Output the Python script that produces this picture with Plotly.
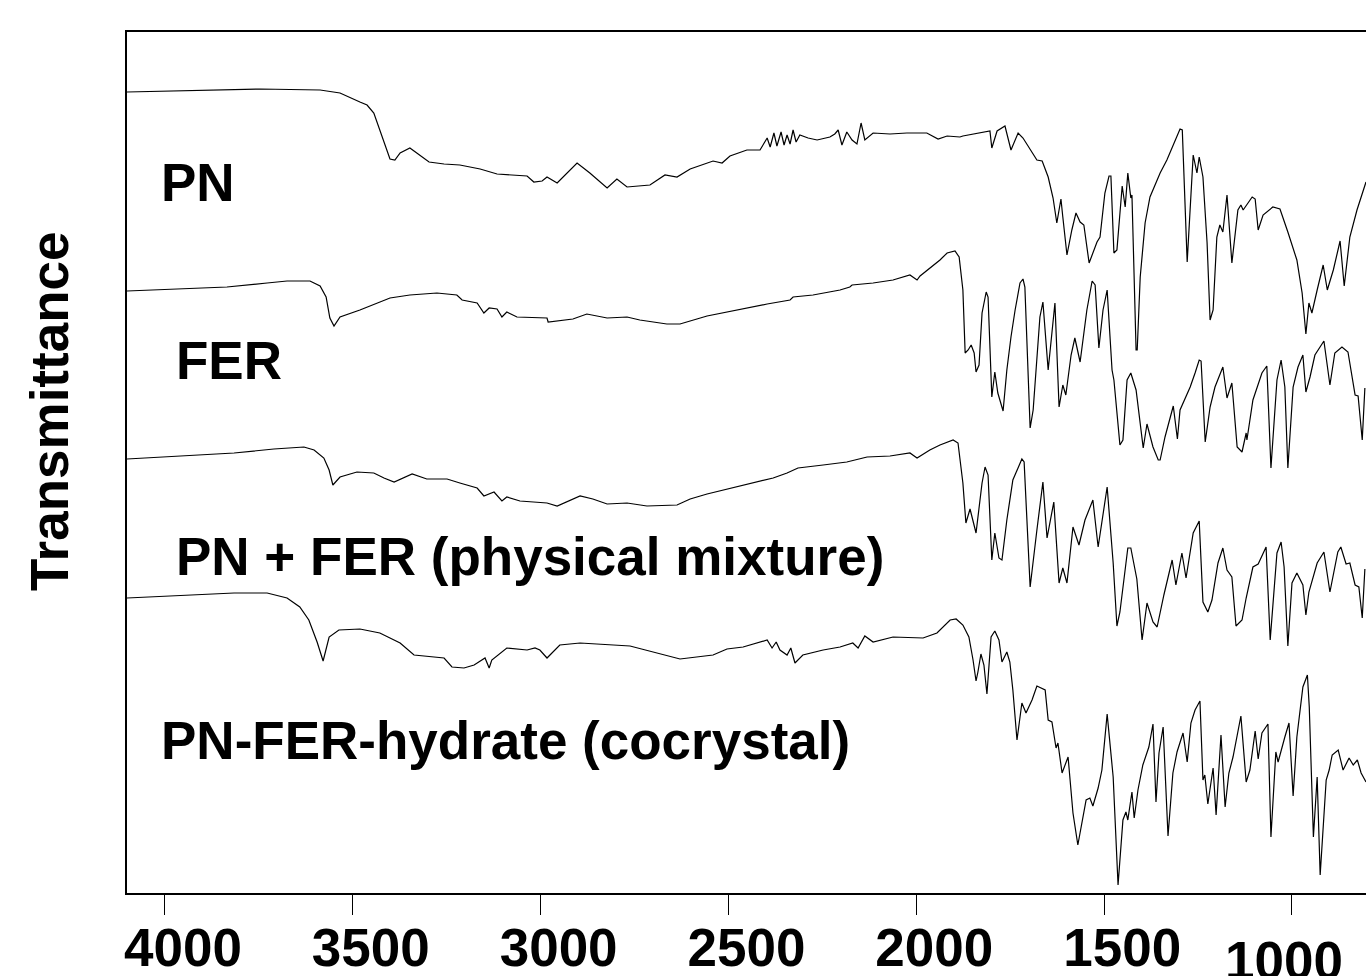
import plotly.graph_objects as go

# ---------------- data (wavenumber cm-1, transmittance a.u. with offsets) ----------------
pn_wn = [4101, 3907, 3747, 3587, 3534, 3481, 3462, 3444, 3428, 3401, 3388, 3374, 3348, 3329, 3297, 3257,
         3215, 3161, 3116, 3036, 3018, 2996, 2983, 2956, 2903, 2869, 2823, 2797, 2770, 2709, 2669, 2637,
         2602, 2541, 2517, 2496, 2451, 2416, 2408, 2397, 2389, 2379, 2371, 2360, 2352, 2344, 2336, 2328,
         2320, 2310, 2288, 2264, 2230, 2217, 2208, 2198, 2185, 2171, 2158, 2147, 2137, 2115, 2070, 2025,
         1972, 1942, 1918, 1884, 1876, 1812, 1804, 1799, 1785, 1764, 1748, 1729, 1716, 1679, 1665, 1649,
         1636, 1626, 1615, 1610, 1599, 1586, 1575, 1564, 1554, 1540, 1519, 1511, 1498, 1487, 1482, 1474,
         1466, 1452, 1444, 1437, 1429, 1426, 1415, 1412, 1404, 1391, 1378, 1351, 1333, 1298, 1292, 1279,
         1263, 1253, 1247, 1237, 1226, 1218, 1210, 1200, 1192, 1184, 1173, 1160, 1144, 1136, 1130, 1106,
         1098, 1090, 1077, 1051, 1032, 1011, 987, 973, 963, 955, 947, 933, 917, 906, 890, 872, 861, 846,
         827, 803]
pn_t = [808, 810, 811, 810, 807, 798, 795, 787, 770, 741, 740, 747, 752, 747, 738, 736,
        735, 731, 726, 724, 718, 719, 723, 717, 737, 727, 712, 721, 713, 715, 725, 723,
        731, 739, 737, 744, 750, 750, 755, 762, 753, 767, 754, 768, 755, 765, 756, 770,
        758, 765, 762, 760, 763, 766, 770, 755, 768, 760, 756, 777, 760, 767, 766, 767,
        767, 761, 764, 763, 764, 769, 769, 752, 769, 774, 750, 767, 762, 740, 739, 723,
        702, 677, 701, 683, 645, 670, 687, 678, 675, 637, 658, 663, 707, 724, 724, 647,
        650, 714, 693, 727, 702, 705, 550, 550, 623, 677, 703, 727, 740, 771, 770, 638,
        745, 727, 743, 723, 657, 580, 590, 663, 675, 668, 705, 637, 690, 695, 690, 703,
        701, 670, 685, 693, 691, 668, 640, 607, 566, 597, 587, 610, 635, 610, 630, 659, 614, 663,
        690, 718]

fer_wn = [4101, 3907, 3835, 3728, 3675, 3614, 3587, 3571, 3561, 3550, 3534, 3481, 3401, 3348, 3276, 3223,
          3209, 3169, 3151, 3137, 3116, 3103, 3090, 3063, 2983, 2980, 2914, 2877, 2823, 2770, 2736, 2664,
          2629, 2557, 2469, 2397, 2336, 2328, 2275, 2203, 2177, 2171, 2115, 2062, 2017, 1998, 1990, 1964,
          1937, 1918, 1897, 1886, 1876, 1870, 1862, 1854, 1846, 1841, 1833, 1825, 1814, 1809, 1799, 1791,
          1783, 1769, 1759, 1748, 1737, 1724, 1716, 1711, 1697, 1689, 1671, 1663, 1649, 1631, 1620, 1610,
          1602, 1588, 1578, 1564, 1546, 1532, 1524, 1514, 1503, 1492, 1479, 1474, 1458, 1450, 1439, 1429,
          1423, 1415, 1396, 1386, 1370, 1356, 1351, 1338, 1316, 1305, 1298, 1271, 1258, 1247, 1242, 1231,
          1218, 1205, 1184, 1173, 1160, 1146, 1133, 1122, 1120, 1104, 1080, 1067, 1056, 1040, 1029, 1019,
          1011, 997, 984, 971, 963, 952, 939, 926, 915, 899, 886, 867, 851, 832, 824, 813, 806]
fer_t = [609, 612, 613, 617, 619, 619, 614, 603, 582, 574, 583, 590, 602, 605, 607, 605,
         600, 597, 587, 592, 591, 583, 588, 583, 582, 578, 581, 586, 582, 583, 580, 576,
         576, 584, 591, 596, 600, 603, 605, 610, 613, 615, 617, 620, 625, 620, 624, 632,
         640, 647, 649, 643, 610, 547, 550, 555, 547, 528, 535, 587, 608, 603, 503, 528,
         507, 489, 530, 563, 590, 617, 621, 613, 472, 490, 583, 598, 530, 597, 493, 515,
         505, 545, 562, 538, 590, 619, 615, 552, 590, 610, 530, 520, 455, 460, 520, 527,
         520, 510, 452, 476, 453, 440, 440, 463, 494, 461, 490, 513, 527, 540, 539, 458,
         493, 513, 533, 502, 517, 453, 448, 467, 460, 500, 527, 534, 432, 520, 540, 513,
         432, 513, 533, 545, 508, 523, 545, 553, 559, 515, 547, 553, 548, 505, 504, 460, 512]

mix_wn = [4101, 3915, 3816, 3710, 3630, 3603, 3577, 3563, 3553, 3534, 3489, 3444, 3417, 3390, 3342, 3303,
          3249, 3215, 3169, 3151, 3124, 3103, 3090, 3055, 2983, 2956, 2895, 2861, 2823, 2770, 2717, 2637,
          2602, 2557, 2504, 2435, 2381, 2344, 2315, 2248, 2185, 2131, 2070, 2017, 1998, 1964, 1937, 1902,
          1889, 1876, 1868, 1857, 1841, 1825, 1817, 1809, 1799, 1791, 1780, 1772, 1759, 1743, 1719, 1713,
          1697, 1679, 1663, 1652, 1634, 1620, 1610, 1599, 1583, 1567, 1551, 1530, 1516, 1492, 1476, 1466,
          1458, 1437, 1429, 1413, 1399, 1386, 1370, 1359, 1341, 1319, 1309, 1293, 1282, 1263, 1247, 1237,
          1224, 1213, 1197, 1184, 1173, 1160, 1149, 1133, 1122, 1104, 1090, 1069, 1058, 1040, 1029, 1021,
          1011, 1000, 987, 971, 963, 955, 933, 915, 899, 878, 870, 856, 846, 832, 822, 813, 806]
mix_t = [441, 445, 447, 451, 453, 450, 442, 430, 415, 423, 428, 427, 422, 418, 426, 421,
         421, 417, 412, 404, 408, 399, 403, 399, 397, 394, 404, 401, 396, 397, 394, 395,
         401, 406, 411, 417, 422, 427, 432, 435, 438, 443, 444, 447, 442, 450, 455, 460,
         457, 417, 377, 391, 367, 417, 433, 425, 340, 367, 342, 340, 380, 420, 441, 438,
         313, 370, 418, 362, 398, 317, 332, 317, 373, 355, 380, 400, 353, 413, 337, 274,
         288, 352, 352, 321, 260, 297, 278, 273, 305, 340, 315, 347, 322, 367, 379, 298,
         288, 300, 337, 352, 330, 323, 274, 280, 302, 333, 336, 353, 260, 347, 358, 333,
         254, 317, 327, 315, 285, 308, 337, 348, 308, 348, 353, 336, 337, 315, 313, 282, 331]

coc_wn = [4101, 3923, 3816, 3728, 3675, 3641, 3617, 3595, 3579, 3563, 3537, 3481, 3428, 3374, 3337, 3257,
          3236, 3204, 3177, 3148, 3137, 3130, 3090, 3036, 3015, 3002, 2983, 2949, 2895, 2762, 2690, 2629,
          2541, 2504, 2461, 2397, 2384, 2373, 2363, 2344, 2334, 2323, 2302, 2248, 2203, 2169, 2155, 2137,
          2115, 2062, 1982, 1945, 1910, 1894, 1876, 1860, 1849, 1841, 1836, 1828, 1820, 1812, 1801, 1791,
          1780, 1772, 1759, 1751, 1743, 1732, 1719, 1708, 1692, 1679, 1657, 1649, 1639, 1628, 1623, 1612,
          1596, 1583, 1570, 1548, 1538, 1530, 1516, 1506, 1492, 1476, 1463, 1450, 1442, 1437, 1426, 1420,
          1410, 1397, 1381, 1370, 1362, 1354, 1343, 1330, 1317, 1306, 1290, 1279, 1269, 1258, 1245, 1237,
          1232, 1224, 1210, 1202, 1189, 1178, 1168, 1157, 1136, 1122, 1112, 1098, 1090, 1080, 1064, 1056,
          1043, 1037, 1019, 1008, 997, 987, 971, 959, 954, 943, 933, 925, 909, 901, 893, 877, 864, 848,
          837, 826, 816, 803]
coc_t = [302, 305, 307, 307, 302, 293, 280, 258, 239, 263, 270, 271, 267, 257, 245, 242,
         233, 232, 235, 242, 232, 240, 252, 250, 252, 250, 242, 255, 257, 254, 247, 241,
         245, 251, 253, 260, 252, 258, 250, 245, 252, 237, 245, 250, 253, 257, 252, 264,
         258, 263, 262, 267, 280, 281, 275, 263, 240, 219, 228, 246, 235, 206, 263, 269,
         260, 238, 248, 238, 210, 160, 197, 187, 200, 214, 210, 180, 178, 152, 157, 127,
         143, 87, 55, 100, 102, 94, 112, 130, 186, 123, 15, 80, 88, 80, 108, 82,
         110, 135, 153, 176, 98, 147, 173, 64, 127, 148, 167, 138, 177, 190, 199, 120,
         125, 96, 132, 85, 165, 93, 127, 143, 184, 118, 130, 169, 141, 167, 176, 63,
         148, 138, 163, 177, 104, 163, 213, 225, 193, 63, 123, 25, 120, 130, 145, 150, 130, 142,
         135, 140, 127, 118]

series = [("PN", pn_wn, pn_t), ("FER", fer_wn, fer_t),
          ("PN + FER (physical mixture)", mix_wn, mix_t),
          ("PN-FER-hydrate (cocrystal)", coc_wn, coc_t)]

tick_vals = [4000, 3500, 3000, 2500, 2000, 1500, 1000]
tick_text = ["4000", "3500", "3000", "2500", "2000", "1500", ""]

# label placement (wavenumber at left edge, transmittance at middle)
label_wn = [4015, 3975, 3975, 4015]
label_t = [718, 540, 344, 160]

FONT = "Liberation Sans, Arial, sans-serif"

fig = go.Figure()
for name, wn, t in series:
    fig.add_trace(go.Scatter(x=wn, y=t, mode="lines", name=name,
                             line=dict(color="black", width=1.2), showlegend=False))

for (name, _, _), lx, ly in zip(series, label_wn, label_t):
    fig.add_annotation(x=lx, y=ly, xref="x", yref="y", text=name, showarrow=False,
                       xanchor="left", yanchor="middle",
                       font=dict(family=FONT, size=53, color="black", weight="bold"))

# shifted 1000 label
fig.add_annotation(x=1000, y=0, xref="x", yref="paper", text="1000", showarrow=False,
                   xanchor="center", yanchor="top", yshift=-36, xshift=-8,
                   font=dict(family=FONT, size=53, color="black", weight="bold"))

# y title
fig.add_annotation(x=-0.062, y=0.559, xref="paper", yref="paper", text="Transmittance",
                   showarrow=False, textangle=-90, xanchor="center", yanchor="middle",
                   font=dict(family=FONT, size=53, color="black", weight="bold"))

fig.update_layout(
    width=1366, height=976,
    margin=dict(l=127, r=0, t=32, b=83),
    paper_bgcolor="white", plot_bgcolor="white",
    xaxis=dict(range=[4101, 803], tickvals=tick_vals, ticktext=tick_text,
               ticks="outside", ticklen=20, tickwidth=1, tickcolor="black",
               showline=True, linecolor="black", linewidth=1.5, mirror=True,
               showgrid=False, zeroline=False, ticklabelshift=-18,
               ticklabelstandoff=-12, automargin=False,
               tickfont=dict(family=FONT, size=53, color="black", weight="bold")),
    yaxis=dict(range=[7, 868], showticklabels=False, ticks="", automargin=False,
               showline=True, linecolor="black", linewidth=1.5, mirror=False,
               showgrid=False, zeroline=False),
)

fig.write_html("out.html")
